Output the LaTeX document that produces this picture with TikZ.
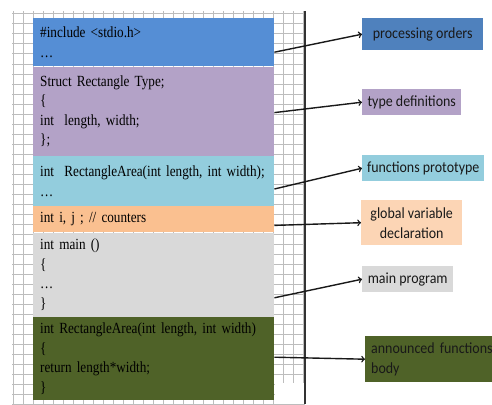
\documentclass[tikz,border=0pt]{standalone}
\usepackage{fontspec}
\setmainfont{Liberation Serif}
\newfontfamily\codefont{Liberation Serif}[FakeStretch=0.85]
\newfontfamily\notefont{Carlito}[FakeStretch=0.9]
\usetikzlibrary{positioning}

\definecolor{incblue}{HTML}{558ED5}
\definecolor{ordblue}{HTML}{4F81BD}
\definecolor{typepurple}{HTML}{B3A2C7}
\definecolor{protocyan}{HTML}{93CDDD}
\definecolor{globorange}{HTML}{FAC090}
\definecolor{globpeach}{HTML}{FCD5B5}
\definecolor{maingray}{HTML}{D9D9D9}
\definecolor{bodygreen}{HTML}{4F6228}
\definecolor{gridgray}{HTML}{BDBDBD}

\tikzset{
  codeblock/.style={rectangle, fill=#1, inner xsep=7pt, inner ysep=0pt,
    text width=227pt, align=left, text=black,
    font=\codefont\fontsize{15.5}{19.5}\selectfont},
  note/.style={rectangle, fill=#1, anchor=north west, inner sep=0pt,
    text=black!90, align=center, font=\notefont\fontsize{15.5}{20}\selectfont},
  gridline/.style={gridgray, line width=1pt},
  link/.style={->, line width=1.4pt, black!90}
}

\begin{document}
\begin{tikzpicture}[x=1pt, y=-1pt]
  \useasboundingbox (0,0) rectangle (492,404);

  % graph paper behind the program
  \foreach \gx in {13,23,...,303}
    \draw[gridline] (\gx,11) -- (\gx,404);
  \foreach \gy in {14,24,...,404}
    \draw[gridline] (12,\gy) -- (305,\gy);
  \fill[white] (275,383) rectangle (304.5,404);
  \draw[line width=1.2pt, black!80] (305,11) -- (305,404);

  % the program, part by part
  \node[codeblock=incblue, minimum height=48pt, anchor=north west] (incl) at (33,18)
    {\#include <stdio.h>\\…};
  \node[codeblock=typepurple, minimum height=89pt, below=0pt of incl] (types)
    {Struct Rectangle Type;\\\{\\int\ \ length, width;\\\};};
  \node[codeblock=protocyan, minimum height=50pt, below=0pt of types] (protos)
    {int\ \ RectangleArea(int length, int width);\\…};
  \node[codeblock=globorange, minimum height=26pt, below=0pt of protos] (globs)
    {int i, j ; // counters};
  \node[codeblock=maingray, minimum height=84pt, below=0pt of globs] (mainfn)
    {int main ()\\\{\\…\\\}};
  \node[codeblock=bodygreen, minimum height=83pt, below=0pt of mainfn] (bodies)
    {int RectangleArea(int length, int width)\\\{\\return length*width;\\\}};

  % what each part is
  \node[note=ordblue, minimum width=121pt, minimum height=32pt] (orders) at (362,18)
    {processing orders};
  \node[note=typepurple, minimum width=99pt, minimum height=26pt] (typedefs) at (362,89)
    {type definitions};
  \node[note=protocyan, minimum width=122pt, minimum height=26pt] (protonote) at (362,155)
    {functions prototype};
  \node[note=globpeach, minimum width=101pt, minimum height=45pt] (globnote) at (361,200)
    {global variable\\declaration};
  \node[note=maingray, minimum width=91pt, minimum height=26pt] (mainnote) at (362,266)
    {main program};
  \node[note=bodygreen, minimum height=46pt, inner xsep=6pt, text width=125pt, align=left] (bodynote) at (365,336)
    {announced functions\\body};

  \draw[link] ([yshift=-10pt]incl.east) -- (orders.west);
  \draw[link] ([yshift=-1.5pt]types.east) -- (typedefs.west);
  \draw[link] ([yshift=-8pt]protos.east) -- (protonote.west);
  \draw[link] ([yshift=-6pt]globs.east) -- (globnote.west);
  \draw[link] ([yshift=-23pt]mainfn.east) -- (mainnote.west);
  \draw[link] ([yshift=1.5pt]bodies.east) -- (bodynote.west);
\end{tikzpicture}
\end{document}
